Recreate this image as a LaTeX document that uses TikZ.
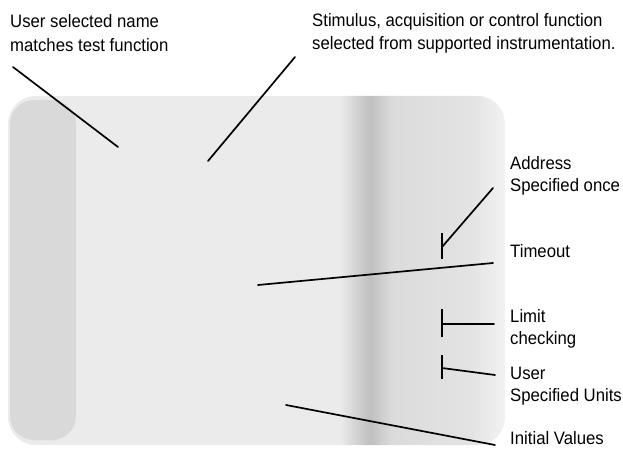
\documentclass[tikz,border=0pt]{standalone}
\usepackage{fontspec}
\setmainfont{Liberation Sans}[FakeStretch=0.93]
\begin{document}
\begin{tikzpicture}[x=1pt,y=-1pt,
  lbl/.style={anchor=base west,inner sep=0pt,font=\fontsize{18}{21}\selectfont},
  ptr/.style={line width=1.7pt,line cap=round},
  tick/.style={line width=1.9pt}]
\useasboundingbox (0,0) rectangle (623,449);
% screen
\begin{scope}
\clip[rounded corners=28pt] (8,96) rectangle (505,445);
\fill[black!8] (8,96) rectangle (505,445);
\fill[black!15,rounded corners=24pt] (10,100) rectangle (76,440);
\shade[left color=black!8,right color=black!25] (340,96) rectangle (370,445);
\shade[left color=black!25,right color=black!14] (370,96) rectangle (392,445);
\shade[left color=black!14,right color=black!11] (392,96) rectangle (470,445);
\shade[left color=black!11,right color=black!5] (470,96) rectangle (505,445);
\end{scope}
% labels
\node[lbl] (userA) at (10,28) {User selected name};
\node[lbl] (userB) at (10,52) {matches test function};
\node[lbl] (stimA) at (312,27) {Stimulus, acquisition or control function};
\node[lbl] (stimB) at (312,50) {selected from supported instrumentation.};
\node[lbl] (addrA) at (510,170) {Address};
\node[lbl] (addrB) at (510,191) {Specified once};
\node[lbl] (tout) at (510,257) {Timeout};
\node[lbl] (limA) at (510,322) {Limit};
\node[lbl] (limB) at (510,344) {checking};
\node[lbl] (unitA) at (510,379) {User};
\node[lbl] (unitB) at (510,401) {Specified Units};
\node[lbl] (init) at (510,444) {Initial Values};
% pointer coordinates
\coordinate (u0) at (13,67);   \coordinate (u1) at (118,147);
\coordinate (s0) at (295,57);  \coordinate (s1) at (208,161);
\coordinate (a0) at (493,188); \coordinate (a1) at (442,247);
\coordinate (at0) at (442,233); \coordinate (at1) at (442,259);
\coordinate (t0) at (493,263); \coordinate (t1) at (258,285);
\coordinate (l0) at (494,324); \coordinate (l1) at (442,324);
\coordinate (lt0) at (442,309); \coordinate (lt1) at (442,337);
\coordinate (v0) at (495,375); \coordinate (v1) at (442,368);
\coordinate (vt0) at (442,355); \coordinate (vt1) at (442,379);
\coordinate (i0) at (495,445); \coordinate (i1) at (286,405);
% pointers
\draw[ptr] (u0) -- (u1);
\draw[ptr] (s0) -- (s1);
\draw[ptr] (a0) -- (a1);
\draw[tick] (at0) -- (at1);
\draw[ptr] (t0) -- (t1);
\draw[ptr] (l0) -- (l1);
\draw[tick] (lt0) -- (lt1);
\draw[ptr] (v0) -- (v1);
\draw[tick] (vt0) -- (vt1);
\draw[ptr] (i0) -- (i1);
\end{tikzpicture}
\end{document}
